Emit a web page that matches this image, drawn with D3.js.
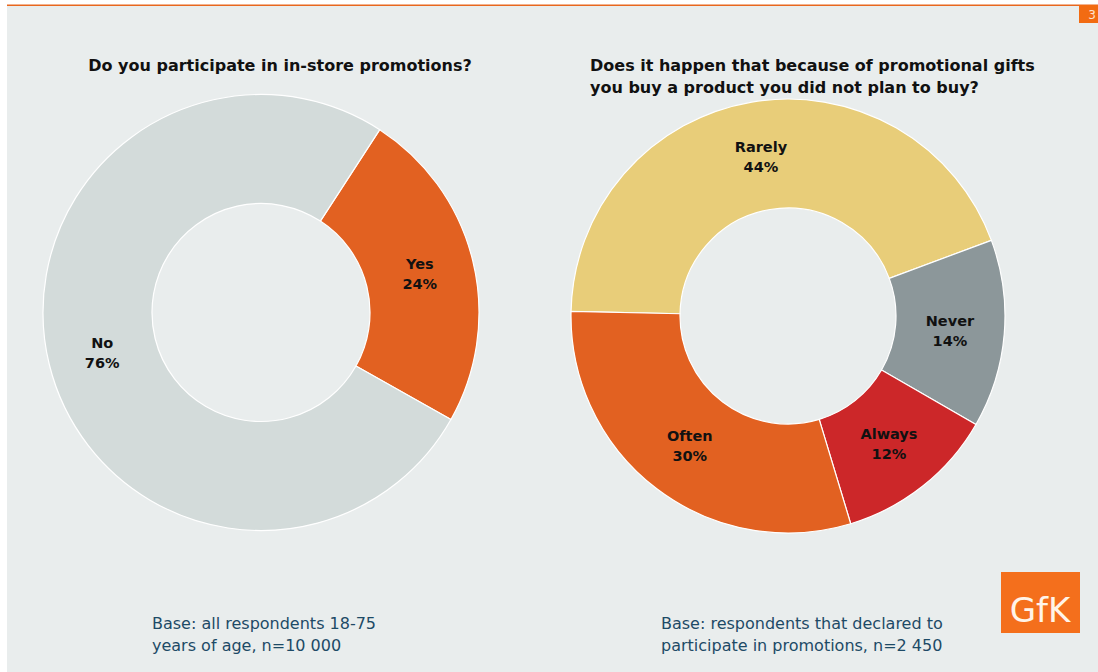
<!DOCTYPE html>
<html>
<head>
<meta charset="utf-8">
<script src="https://cdn.jsdelivr.net/npm/d3@7"></script>
<style>
  html, body { margin: 0; padding: 0; background: #fff; }
  svg { display: block; }
</style>
</head>
<body>
<div id="chart"></div>
<script>
// left chart
const leftCategories = ['Yes', 'No']
const leftValues = [24, 76]
const leftColors = ['#e26121', '#d3dbda']
const leftTitle = ['Do you participate in in-store promotions?']
const leftBase = ['Base: all respondents 18-75', 'years of age, n=10 000']

// right chart
const rightCategories = ['Rarely', 'Never', 'Always', 'Often']
const rightValues = [44, 14, 12, 30]
const rightColors = ['#e8cd79', '#8c979a', '#cc2729', '#e26121']
const rightTitle = ['Does it happen that because of promotional gifts', 'you buy a product you did not plan to buy?']
const rightBase = ['Base: respondents that declared to', 'participate in promotions, n=2 450']

const width = 1098
const height = 672
const deg = Math.PI / 180
const font = 'Tahoma, "DejaVu Sans", sans-serif'

const svg = d3.select('#chart').append('svg')
  .attr('width', width)
  .attr('height', height)

// slide background
svg.append('rect')
  .attr('x', 7).attr('y', 5)
  .attr('width', width - 7).attr('height', height - 5)
  .attr('fill', '#e9eded')

svg.append('rect')
  .attr('x', 7).attr('y', 4.5)
  .attr('width', width - 7).attr('height', 1.5)
  .attr('fill', '#e8671e')

svg.append('rect')
  .attr('x', 1079).attr('y', 5)
  .attr('width', 19).attr('height', 18)
  .attr('fill', '#f26b12')

svg.append('text')
  .attr('x', 1092).attr('y', 19)
  .attr('text-anchor', 'middle')
  .attr('fill', '#fde3cf')
  .attr('font-family', font)
  .attr('font-size', 12)
  .text('3')

function donut ({ categories, values, colors, cx, cy, outer, inner, start, title, titleX, titleY, titleAnchor, base, baseX, baseY }) {
  const pie = d3.pie().sort(null)
    .startAngle(start * deg)
    .endAngle(start * deg + 2 * Math.PI)
  const arc = d3.arc().innerRadius(inner).outerRadius(outer)
  const arcs = pie(values)

  const g = svg.append('g').attr('transform', `translate(${cx},${cy})`)

  g.selectAll('path')
    .data(arcs).enter()
    .append('path')
    .attr('d', arc)
    .attr('fill', (d, i) => colors[i])
    .attr('stroke', '#ffffff')
    .attr('stroke-width', 1.2)

  const label = g.selectAll('text.lbl')
    .data(arcs).enter()
    .append('text')
    .attr('class', 'lbl')
    .attr('transform', d => `translate(${arc.centroid(d)})`)
    .attr('text-anchor', 'middle')
    .attr('font-family', font)
    .attr('font-weight', 'bold')
    .attr('font-size', 14.5)
    .attr('fill', '#111')
  label.append('tspan').attr('x', 0).attr('y', -4).text((d, i) => categories[i])
  label.append('tspan').attr('x', 0).attr('y', 16).text(d => `${d.data}%`)

  svg.append('text')
    .attr('x', titleX).attr('y', titleY)
    .attr('text-anchor', titleAnchor)
    .attr('font-family', font)
    .attr('font-weight', 'bold')
    .attr('font-size', 16)
    .attr('fill', '#111')
    .selectAll('tspan')
    .data(title).enter()
    .append('tspan')
    .attr('x', titleX)
    .attr('dy', (d, i) => i === 0 ? 0 : 22)
    .text(d => d)

  svg.append('text')
    .attr('x', baseX).attr('y', baseY)
    .attr('font-family', font)
    .attr('font-size', 16)
    .attr('fill', '#1d4a66')
    .selectAll('tspan')
    .data(base).enter()
    .append('tspan')
    .attr('x', baseX)
    .attr('dy', (d, i) => i === 0 ? 0 : 22)
    .text(d => d)
}

donut({
  categories: leftCategories, values: leftValues, colors: leftColors,
  cx: 261, cy: 312.5, outer: 218, inner: 109, start: 33,
  title: leftTitle, titleX: 280, titleY: 71, titleAnchor: 'middle',
  base: leftBase, baseX: 152, baseY: 629
})

donut({
  categories: rightCategories, values: rightValues, colors: rightColors,
  cx: 788, cy: 316, outer: 217, inner: 108, start: -88.8,
  title: rightTitle, titleX: 590, titleY: 71, titleAnchor: 'start',
  base: rightBase, baseX: 661, baseY: 629
})

// logo
svg.append('rect')
  .attr('x', 1001).attr('y', 572)
  .attr('width', 79).attr('height', 61)
  .attr('fill', '#f46f1c')

svg.append('text')
  .attr('x', 1040).attr('y', 622)
  .attr('text-anchor', 'middle')
  .attr('font-family', '"DejaVu Sans", sans-serif')
  .attr('font-size', 34)
  .attr('fill', '#fff4e8')
  .text('GfK')
</script>
</body>
</html>
